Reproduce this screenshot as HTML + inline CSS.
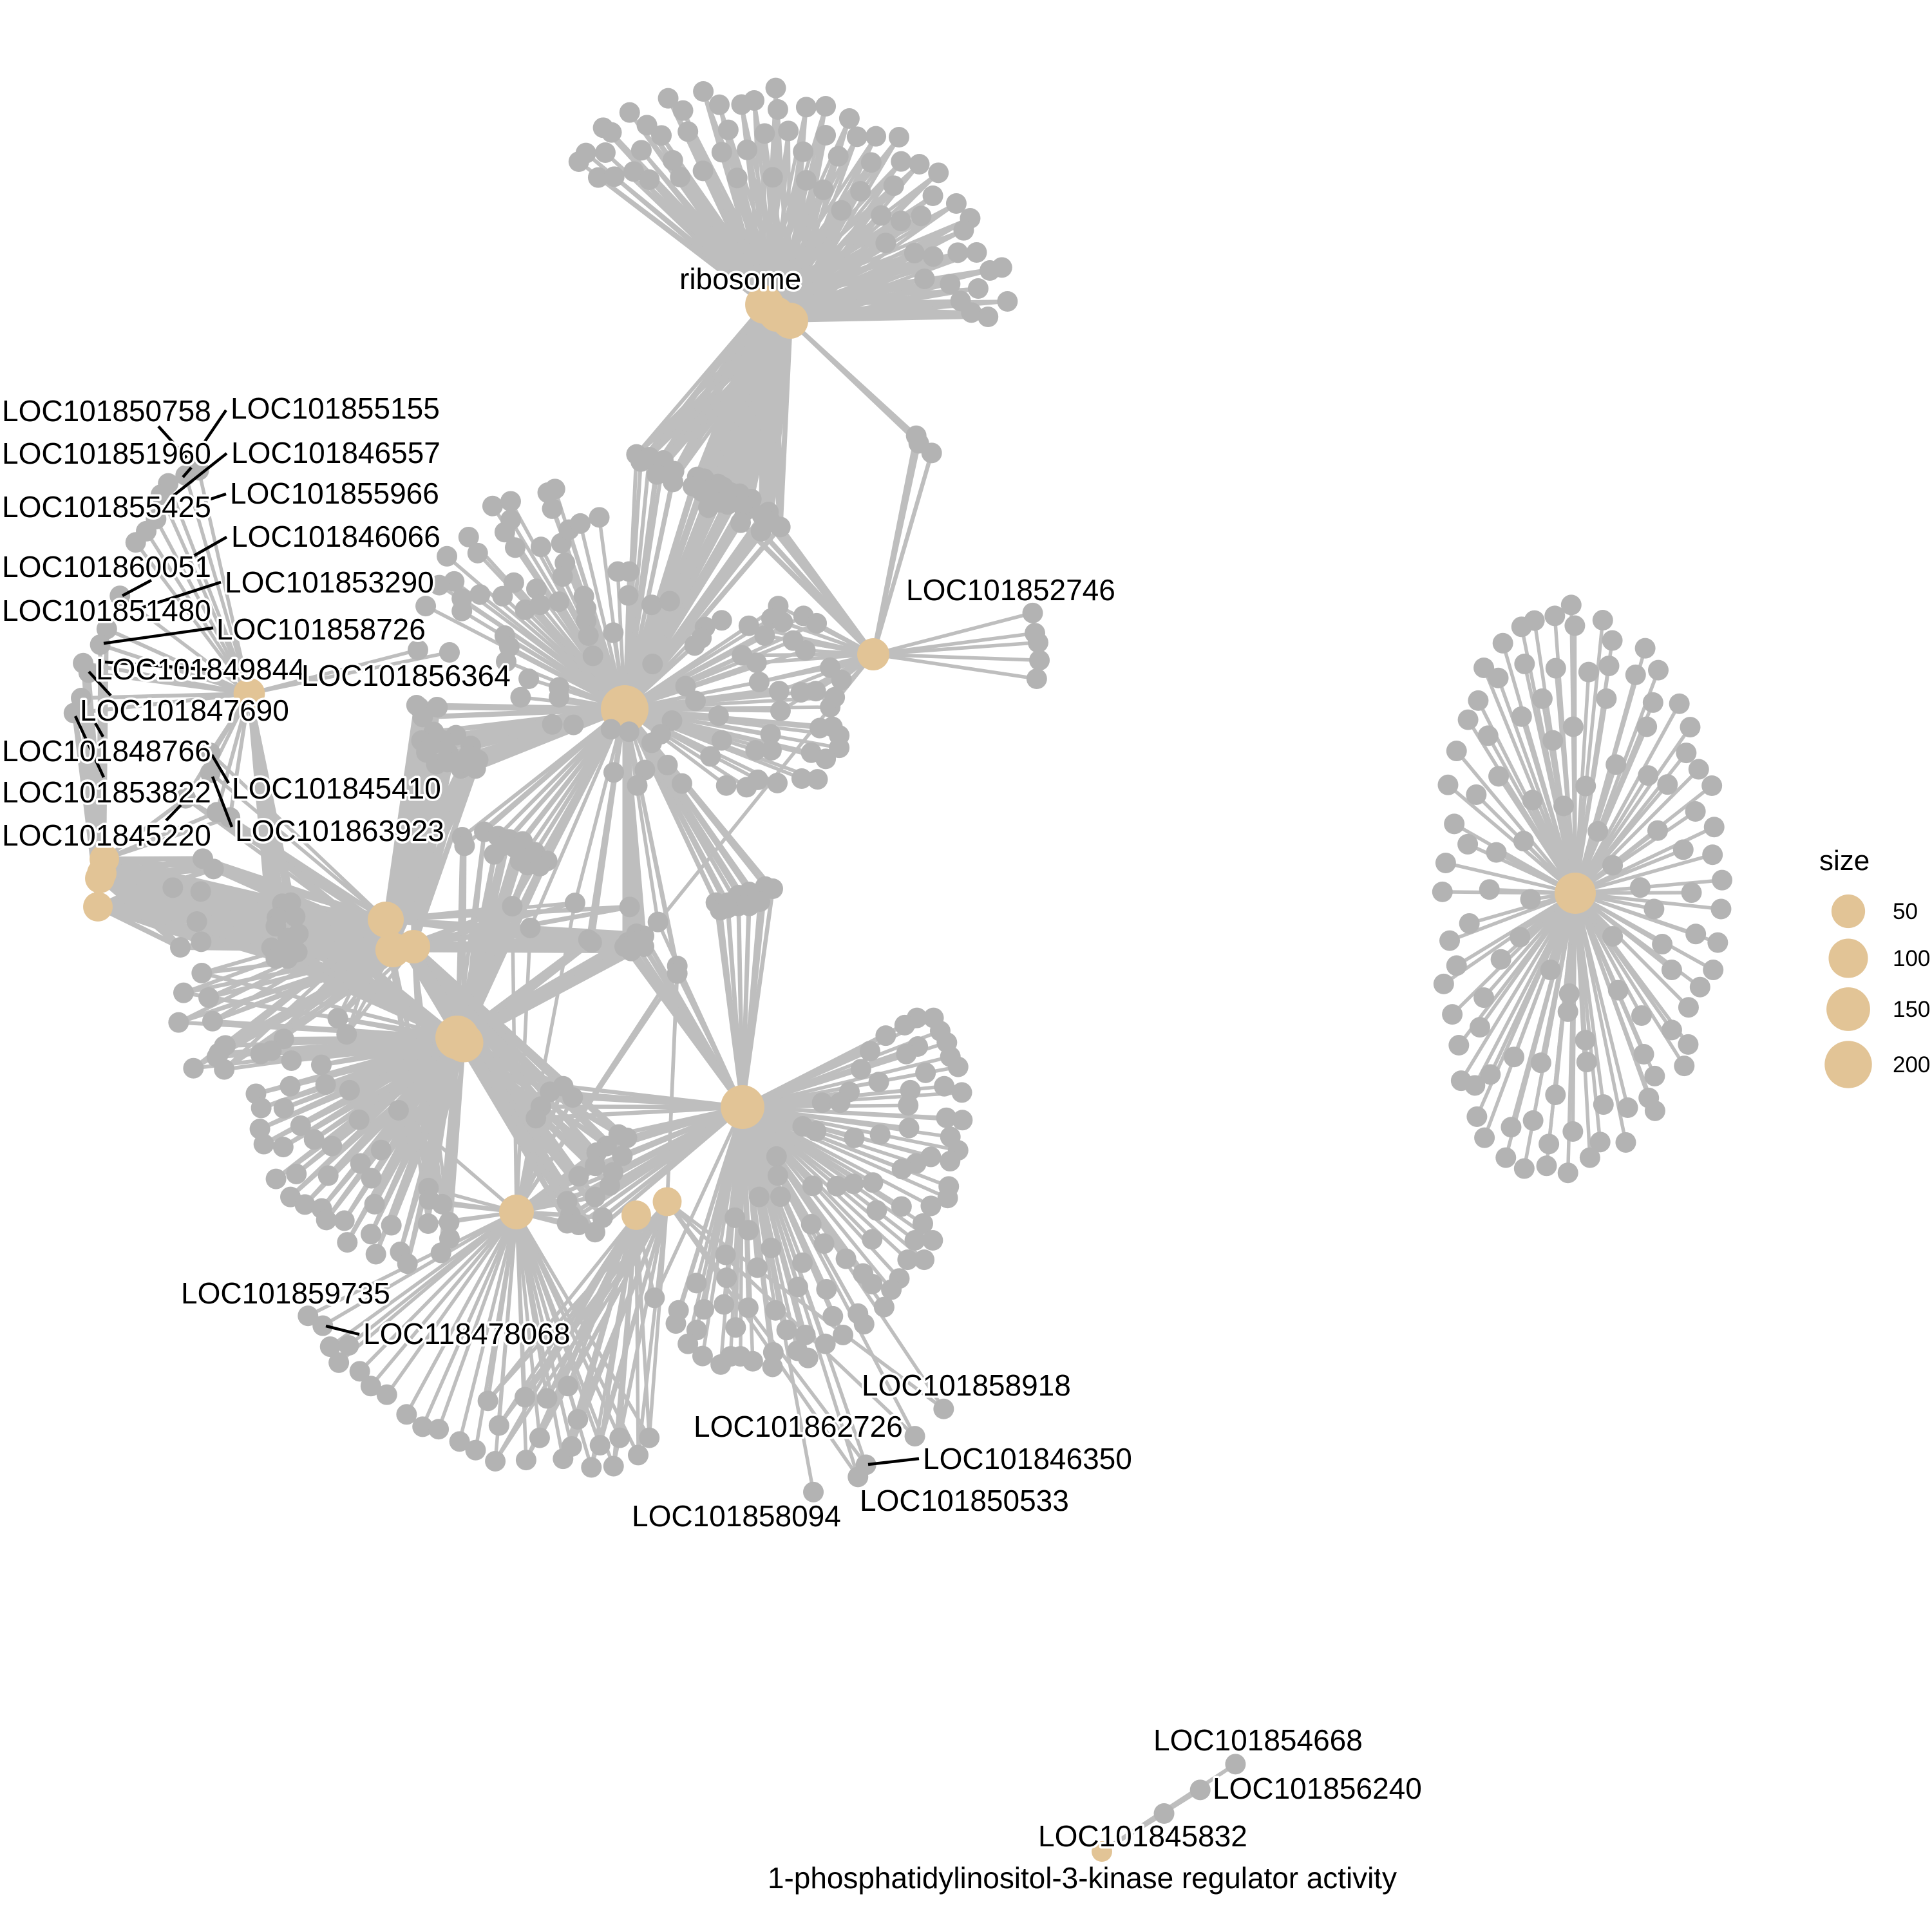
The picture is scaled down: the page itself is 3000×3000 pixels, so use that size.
<!DOCTYPE html>
<html lang="en">
<head>
<meta charset="utf-8">
<title>Gene concept network</title>
<style>
html,body{margin:0;padding:0;background:#fff;width:3000px;height:3000px;overflow:hidden}
svg{display:block}
text{font-family:"Liberation Sans",Arial,sans-serif;fill:#000}
.lab{font-size:46px;paint-order:stroke;stroke:#fff;stroke-width:7px;stroke-linejoin:round}
.seg{stroke:#000;stroke-width:4.5px;fill:none}
.leg{font-size:35px}
</style>
</head>
<body>
<svg id="chart" xmlns="http://www.w3.org/2000/svg" width="3000" height="3000" viewBox="0 0 3000 3000">
<g id="edges"></g>
<g id="terms"></g>
<g id="genes"></g>
<g>
<path class="seg" d="M246 662L290 711"/>
<path class="seg" d="M351 637L317 687"/>
<path class="seg" d="M352 704L270 769"/>
<path class="seg" d="M284 741L297 726"/>
<path class="seg" d="M351 767L327 775"/>
<path class="seg" d="M352 834L301 863"/>
<path class="seg" d="M190 925L235 901"/>
<path class="seg" d="M343 904L219 944"/>
<path class="seg" d="M331 975L161 999"/>
<path class="seg" d="M163 1028L367 1043"/>
<path class="seg" d="M138 1043L172 1080"/>
<path class="seg" d="M117 1112L161 1207"/>
<path class="seg" d="M148 1123L160 1144"/>
<path class="seg" d="M329 1172L355 1216"/>
<path class="seg" d="M330 1206L360 1284"/>
<path class="seg" d="M258 1274L281 1250"/>
<path class="seg" d="M506 2059L558 2072"/>
<path class="seg" d="M1348 2274L1427 2265"/>
</g>
<g>
<text class="lab" x="3" y="654">LOC101850758</text>
<text class="lab" x="358" y="650">LOC101855155</text>
<text class="lab" x="3" y="720">LOC101851960</text>
<text class="lab" x="359" y="719">LOC101846557</text>
<text class="lab" x="3" y="803">LOC101855425</text>
<text class="lab" x="357" y="782">LOC101855966</text>
<text class="lab" x="359" y="849">LOC101846066</text>
<text class="lab" x="3" y="896">LOC101860051</text>
<text class="lab" x="349" y="920">LOC101853290</text>
<text class="lab" x="3" y="964">LOC101851480</text>
<text class="lab" x="336" y="993">LOC101858726</text>
<text class="lab" x="149" y="1055">LOC101849844</text>
<text class="lab" x="468" y="1065">LOC101856364</text>
<text class="lab" x="124" y="1119">LOC101847690</text>
<text class="lab" x="3" y="1182">LOC101848766</text>
<text class="lab" x="360" y="1240">LOC101845410</text>
<text class="lab" x="3" y="1246">LOC101853822</text>
<text class="lab" x="365" y="1306">LOC101863923</text>
<text class="lab" x="3" y="1313">LOC101845220</text>
<text class="lab" x="1407" y="932">LOC101852746</text>
<text class="lab" x="281" y="2024">LOC101859735</text>
<text class="lab" x="564" y="2087">LOC118478068</text>
<text class="lab" x="1338" y="2167">LOC101858918</text>
<text class="lab" x="1077" y="2231">LOC101862726</text>
<text class="lab" x="1433" y="2281">LOC101846350</text>
<text class="lab" x="1335" y="2346">LOC101850533</text>
<text class="lab" x="981" y="2370">LOC101858094</text>
<text class="lab" x="1791" y="2718">LOC101854668</text>
<text class="lab" x="1883" y="2793">LOC101856240</text>
<text class="lab" x="1612" y="2867">LOC101845832</text>
<text class="lab" x="1055" y="449">ribosome</text>
<text class="lab" x="1192" y="2932" textLength="977" lengthAdjust="spacing">1-phosphatidylinositol-3-kinase regulator activity</text>
</g>
<g id="legend">
<text x="2825" y="1351" style="font-size:44px">size</text>
</g>
</svg>
<script>
// Term (category) nodes: layout position and gene count
const termX = [1187,1206,1227,970,1356,387,162,158,155,152,599,610,642,710,720,802,988,1036,1153,2446,1711];
const termY = [473,488,498,1101,1016,1077,1334,1356,1364,1408,1428,1475,1470,1611,1619,1882,1887,1866,1719,1387,2875];
const termSize = [92,60,69,205,40,35,25,25,25,25,69,60,49,151,100,58,25,22,151,120,3];

// Legend values
const legendSizes = [50,100,150,200];
const legendLabels = ["50","100","150","200"];

// Gene node size (gene count = minimum of the scale)
const geneSize = 3;

// Gene layout arrays; each is read in the coordinate frame named in geneGroups
const ribosomeGenes = [[741,110],[506,126],[392,158],[671,168],[558,188],[630,187],[440,215],[748,210],[840,199],[903,195],[267,224],[980,252],[181,295],[208,317],[323,283],[370,331],[456,313],[587,305],[705,322],[782,310],[903,330],[1005,337],[1066,335],[1141,339],[125,413],[188,411],[305,400],[102,453],[566,409],[648,398],[830,407],[944,428],[1051,457],[1148,452],[1207,465],[1269,505],[407,447],[165,527],[217,523],[280,499],[331,537],[431,525],[505,496],[616,529],[731,526],[840,540],[896,584],[1016,591],[1124,565],[1251,612],[1327,648],[1372,717],[954,680],[1083,704],[1147,729],[1213,706],[1351,773],[1098,832],[1191,879],[1252,895],[1332,877],[1393,876],[1224,999],[1307,1023],[1436,960],[1475,946],[1398,1044],[1493,1104],[1341,1102],[1376,1156],[1430,1176]];
const ribosomeLeftGenes = [[115,617],[135,650],[175,630],[210,660],[240,645],[210,710],[290,695],[285,745]];
const ribosomeRightGenes = [[398,722],[378,765],[430,730],[495,755],[450,865],[480,800],[555,795],[595,800],[650,825],[540,850],[620,880],[520,770],[575,830],[460,780],[610,850],[500,840],[420,790]];
const ribosomeCGenes = [[1418,530],[1430,565],[1490,610]];
const ribosomeBCGenes = [[600,935],[730,885],[695,975],[785,955],[700,900],[740,930]];
const bFanGenes = [[316,155],[300,170],[310,235],[178,224],[218,205],[218,280],[205,330],[228,393],[285,390],[330,375],[347,320],[372,295],[414,270],[125,350],[77,428],[145,415],[338,455],[333,510],[93,530],[60,545],[30,630],[110,600],[110,650],[150,583],[200,590],[225,535],[275,560],[250,645],[283,625],[325,612],[380,590],[385,640],[385,690],[390,750],[205,750],[215,795],[208,855],[445,738],[400,832],[455,490],[480,490],[478,587],[530,625],[570,610],[532,865],[258,925],[240,1000],[325,960],[325,1000],[15,1040],[55,1040],[310,1110],[357,1112],[440,1130],[480,1140],[575,1095],[550,1150],[530,1185],[605,955],[627,1015],[678,1075],[446,1305],[515,1295],[498,1358],[565,1275],[597,1350],[685,1175],[660,1240],[695,1358],[740,1365],[765,1335],[808,1348],[793,1150],[760,1215],[795,1215],[902,1125],[930,1120],[945,1155],[945,1205],[883,1225],[915,1250],[862,1330],[897,1333],[685,688],[648,715],[625,790],[640,760]];
const bcFanGenes = [[843,770],[870,810],[745,710],[780,750],[810,630],[795,680],[820,695],[866,670],[895,700],[925,880],[950,930],[925,1040],[935,1000],[768,938],[812,975],[860,980],[893,975],[815,1055],[730,830],[762,860]];
const cOnlyGenes = [[1373,658],[1378,740],[1385,778],[1388,850],[1382,925]];
const dUpperGenes = [[605,240],[565,255],[512,278],[490,310],[475,380],[445,415],[413,447],[365,600],[1272,755],[1368,762]];
const dLowerGenes = [[325,695],[305,740],[253,793],[270,820],[247,893],[225,936]];
const dfNearGenes = [[640,1050],[640,1107]];
const dfLowGenes = [[660,1220],[700,1235],[565,1180]];
const bfClusterGenes = [[70,135],[155,145],[95,190],[140,260],[230,275],[90,300],[290,325],[110,355],[200,360],[320,390],[150,410],[250,430],[310,430],[195,400],[260,400],[180,300],[130,320],[280,370]];
const gbClusterGenes = [[255,750],[265,790],[345,725],[400,745],[385,830],[445,760],[500,770],[490,860],[520,880],[550,820],[600,860],[570,885],[470,800],[420,790]];
const leftUpperGenes = [[195,250],[245,298],[55,385],[185,403],[167,543],[187,637],[90,663]];
const leftLowerGenes = [[190,783],[105,875],[222,897],[82,1013],[240,1007],[300,1120],[270,1155]];
const leftDarkGenes = [[565,460],[605,455],[540,525],[625,520],[535,565],[640,600],[590,620],[515,665],[535,715],[590,715],[635,685],[580,670]];
const leftFarGenes = [[157,867],[182,849],[176,858],[182,868],[212,855]];
const fgGenes = [[342,551],[369,600]];
const gFanGenes = [[178,614],[140,650],[107,660],[201,680],[292,693],[197,758],[305,753],[378,770],[93,781],[109,824],[178,825],[105,888],[229,878],[407,860],[270,920],[324,940],[117,934],[176,943],[474,952],[411,993],[154,1040],[216,1025],[313,1030],[444,1038],[198,1095],[242,1118],[293,1130],[454,1117],[362,1167],[307,1165],[505,1181],[443,1208],[682,1221],[371,1233],[656,1265],[532,1262],[458,1269],[554,1298]];
const ghGenes = [[618,1068],[620,1103],[660,1117],[617,1176],[681,1172]];
const ghSoloGenes = [[527,831]];
const midFGenes = [[1064,200],[873,210],[928,276]];
const midThickGenes = [[1105,312],[1110,316],[1115,320]];
const midNearKGenes = [[83,775]];
const midCKGenes = [[215,845]];
const midGKGenes = [[305,1050],[305,1085]];
const midBandGenes = [[75,940],[115,900],[150,910],[60,960],[110,950],[150,960],[90,980],[130,930]];
const gkClusterGenes = [[1028,758],[988,775],[1057,792],[960,820],[945,855],[1197,905],[1222,915],[1160,940],[1130,960],[1208,970],[1125,1000],[1075,1032],[1180,1020],[1170,1060],[1040,1108],[1125,1095],[1050,1150],[1075,1180],[1148,1158],[1125,1202],[1040,1175]];
const bkClusterGenes = [[485,755],[505,790],[540,755],[590,720],[640,705],[715,680],[750,690],[590,770],[640,770],[690,750],[540,780]];
const kFanGenes = [[1205,60],[1143,60],[1097,82],[1026,114],[1230,100],[1255,135],[967,161],[1146,147],[1103,170],[1268,178],[1297,209],[933,216],[1175,227],[1000,255],[1245,268],[1311,287],[890,285],[1118,280],[788,318],[855,318],[1110,326],[1253,364],[1313,371],[1113,395],[715,390],[765,405],[908,425],[1005,415],[1268,422],[1297,463],[1195,483],[1140,503],[1087,520],[1267,496],[617,482],[622,540],[752,571],[843,572],[905,565],[978,561],[1262,573],[1258,608],[552,605],[632,604],[1085,634],[992,646],[1195,632],[1165,686],[461,668],[512,706],[747,688],[795,747],[975,734],[1135,737],[1202,737],[597,760],[426,781],[877,793],[1108,796],[1170,796],[714,805],[545,820],[941,838],[430,851],[317,867],[697,879],[804,886],[975,870],[1077,853],[1047,887],[1020,940],[250,950],[240,990],[345,947],[420,932],[511,942],[613,950],[922,960],[945,992],[828,968],[318,1010],[464,1002],[655,1010],[725,1025],[866,1025],[285,1052],[800,1052],[340,1089],[408,1115],[445,1090],[482,1090],[528,1105],[605,1078],[602,1122],[695,1073],[735,1095],[755,1503]];
const kFarGenes = [[1243,1250],[1135,1333],[952,1420],[922,1457]];
const kiGenes = [[160,912]];
const lowerLeftGenes = [[250,1068],[262,1076],[268,1093],[283,1092],[275,1106],[292,1113],[301,1125],[314,1132],[330,1148],[343,1158],[356,1160],[373,1170],[386,1177]];
const lowerRightGenes = [[402,1186],[405,1157],[396,1137],[426,1134],[427,1185],[444,1135],[438,1167],[457,1184],[464,1174],[469,1152],[480,1191],[487,1173],[498,1190],[503,1167],[518,1181],[527,1167],[461,1125]];
const rightFanGenes = [[470,65],[420,93],[358,105],[319,121],[481,118],[566,104],[595,156],[262,163],[695,176],[204,226],[248,252],[328,216],[423,227],[523,237],[585,221],[666,244],[735,232],[577,305],[719,315],[799,318],[382,305],[187,310],[156,359],[319,351],[476,377],[700,377],[832,378],[217,400],[414,412],[121,439],[820,444],[606,474],[858,486],[249,504],[704,502],[514,529],[763,525],[898,528],[95,526],[181,551],[352,565],[447,580],[848,594],[905,634],[114,626],[733,643],[551,645],[325,670],[155,678],[811,692],[242,699],[900,705],[596,732],[88,726],[929,770],[680,789],[221,794],[78,800],[836,802],[346,819],[926,844],[722,844],[160,881],[849,908],[596,914],[747,934],[314,916],[100,925],[916,930],[121,989],[256,973],[776,1000],[902,1000],[407,1000],[862,1044],[82,1036],[613,1052],[464,1061],[204,1071],[827,1096],[460,1107],[684,1117],[108,1114],[192,1147],[776,1154],[826,1191],[128,1193],[513,1180],[296,1223],[691,1216],[378,1238],[517,1236],[814,1246],[224,1268],[135,1284],[177,1296],[724,1272],[422,1320],[568,1345],[706,1328],[642,1353],[725,1361],[183,1376],[354,1386],[287,1403],[475,1414],[558,1441],[636,1442],[206,1430],[402,1446],[271,1481],[527,1481],[327,1509],[395,1502],[460,1520]];
const pi3kGenes = [[1095,268],[1017,388],[937,498]];

// Axis functions for each layout frame (origin and scale only)
function makeAxis(origin, scale){ return function(v){ return origin + v / scale; }; }
const frames = {
  whole:  {x: makeAxis(0,0.5227),  y: makeAxis(0,0.5227)},
  top:    {x: makeAxis(850,2.09),  y: makeAxis(100,3)},
  ribB:   {x: makeAxis(950,3),     y: makeAxis(500,3)},
  left:   {x: makeAxis(0,1.96),    y: makeAxis(600,1.845)},
  leftB:  {x: makeAxis(250,3),     y: makeAxis(1250,3)},
  centre: {x: makeAxis(640,1.425), y: makeAxis(700,2.613)},
  below:  {x: makeAxis(620,2.613), y: makeAxis(1050,3)},
  mid:    {x: makeAxis(950,3),     y: makeAxis(1150,3)},
  lower:  {x: makeAxis(350,1.96),  y: makeAxis(1300,1.96)},
  fan:    {x: makeAxis(950,2.412), y: makeAxis(1550,1.96)},
  right:  {x: makeAxis(2200,1.96), y: makeAxis(900,1.65)},
  bottom: {x: makeAxis(1150,1.425),y: makeAxis(2650,3)}
};

// Diameter axis for node size
function sizeToDiameter(s){ return 32 + 42 * Math.sqrt(Math.max(0, s - 3) / 202); }

// Which genes link to which terms (w = edge weight)
const geneGroups = [
  {genes: ribosomeGenes,      frame: "top",    terms: [0,1,2], w: 5.5},
  {genes: ribosomeLeftGenes,  frame: "ribB",   terms: [0,1,2,3], w: 6},
  {genes: ribosomeRightGenes, frame: "ribB",   terms: [0,1,2,3], w: 8},
  {genes: ribosomeCGenes,     frame: "ribB",   terms: [2,4], w: 6.5},
  {genes: ribosomeBCGenes,    frame: "ribB",   terms: [0,1,2,3,4], w: 8},
  {genes: bFanGenes,          frame: "centre", terms: [3], w: 5.5},
  {genes: bcFanGenes,         frame: "centre", terms: [3,4], w: 5.5},
  {genes: cOnlyGenes,         frame: "centre", terms: [4], w: 5.5},
  {genes: dUpperGenes,        frame: "left",   terms: [5], w: 5.5},
  {genes: dLowerGenes,        frame: "left",   terms: [5,6,7,8,9], w: 6},
  {genes: dfNearGenes,        frame: "left",   terms: [5,10], w: 5.5},
  {genes: dfLowGenes,         frame: "left",   terms: [5,6,10,11,12], w: 6},
  {genes: bfClusterGenes,     frame: "below",  terms: [3,10,11,12], w: 8},
  {genes: gbClusterGenes,     frame: "below",  terms: [3,13,14], w: 6},
  {genes: leftUpperGenes,     frame: "leftB",  terms: [6,7,8,9,10,11,12], w: 8},
  {genes: leftLowerGenes,     frame: "leftB",  terms: [10,11,12,13], w: 6},
  {genes: leftDarkGenes,      frame: "leftB",  terms: [5,6,7,8,9,10,11,12,13,14], w: 8},
  {genes: leftFarGenes,       frame: "whole",  terms: [10,11,12,13], w: 6},
  {genes: fgGenes,            frame: "lower",  terms: [10,11,12,13,14], w: 5.5},
  {genes: gFanGenes,          frame: "lower",  terms: [13,14], w: 6.5},
  {genes: ghGenes,            frame: "lower",  terms: [10,12,13,15], w: 5.5},
  {genes: ghSoloGenes,        frame: "lower",  terms: [13,15], w: 5.5},
  {genes: midFGenes,          frame: "lower",  terms: [3,10,11,12,15], w: 5.5},
  {genes: midThickGenes,      frame: "lower",  terms: [3,10,11,12,13,14], w: 7},
  {genes: midNearKGenes,      frame: "mid",    terms: [3,10,11,12], w: 7},
  {genes: midCKGenes,         frame: "mid",    terms: [3,4,18], w: 5.5},
  {genes: midGKGenes,         frame: "mid",    terms: [3,15,17,18], w: 5.5},
  {genes: midBandGenes,       frame: "mid",    terms: [3,10,11,12,13,14,18], w: 7},
  {genes: gkClusterGenes,     frame: "lower",  terms: [10,12,13,14,15,18], w: 6.5},
  {genes: bkClusterGenes,     frame: "mid",    terms: [3,18], w: 6.5},
  {genes: kFanGenes,          frame: "fan",    terms: [18], w: 5.5},
  {genes: kFarGenes,          frame: "fan",    terms: [18,17], w: 5.5},
  {genes: kiGenes,            frame: "fan",    terms: [18,16], w: 5.5},
  {genes: lowerLeftGenes,     frame: "whole",  terms: [15], w: 5.5},
  {genes: lowerRightGenes,    frame: "whole",  terms: [15,16,17], w: 5.5},
  {genes: rightFanGenes,      frame: "right",  terms: [19], w: 5.5},
  {genes: pi3kGenes,          frame: "bottom", terms: [20], w: 6}
];

const NS = "http://www.w3.org/2000/svg";
const edgeLayer = document.getElementById("edges");
const termLayer = document.getElementById("terms");
const geneLayer = document.getElementById("genes");
const legendLayer = document.getElementById("legend");

termX.forEach(function(tx, i){
  const c = document.createElementNS(NS, "circle");
  c.setAttribute("cx", tx);
  c.setAttribute("cy", termY[i]);
  c.setAttribute("r", sizeToDiameter(termSize[i]) / 2);
  c.setAttribute("fill", "#e2c496");
  
  
  termLayer.appendChild(c);
});

geneGroups.forEach(function(group){
  const f = frames[group.frame];
  group.genes.forEach(function(g){
    const gx = f.x(g[0]);
    const gy = f.y(g[1]);
    group.terms.forEach(function(t){
      const l = document.createElementNS(NS, "line");
      l.setAttribute("x1", termX[t]);
      l.setAttribute("y1", termY[t]);
      l.setAttribute("x2", gx);
      l.setAttribute("y2", gy);
      l.setAttribute("stroke", "#bebebe");
      l.setAttribute("stroke-width", group.w);
      
      
      edgeLayer.appendChild(l);
    });
    const c = document.createElementNS(NS, "circle");
    c.setAttribute("cx", gx);
    c.setAttribute("cy", gy);
    c.setAttribute("r", sizeToDiameter(geneSize) / 2);
    c.setAttribute("fill", "#b3b3b3");
    
    
    geneLayer.appendChild(c);
  });
});

const legendCenterX = 2870;
const legendRowY = [1415,1488,1567,1653];
legendSizes.forEach(function(s, i){
  const c = document.createElementNS(NS, "circle");
  c.setAttribute("cx", legendCenterX);
  c.setAttribute("cy", legendRowY[i]);
  c.setAttribute("r", sizeToDiameter(s) / 2);
  c.setAttribute("fill", "#e2c496");
  
  
  legendLayer.appendChild(c);
  const t = document.createElementNS(NS, "text");
  t.setAttribute("x", 2939);
  t.setAttribute("y", legendRowY[i] + 12);
  t.setAttribute("class", "leg");
  t.textContent = legendLabels[i];
  
  
  legendLayer.appendChild(t);
});
</script>
</body>
</html>
